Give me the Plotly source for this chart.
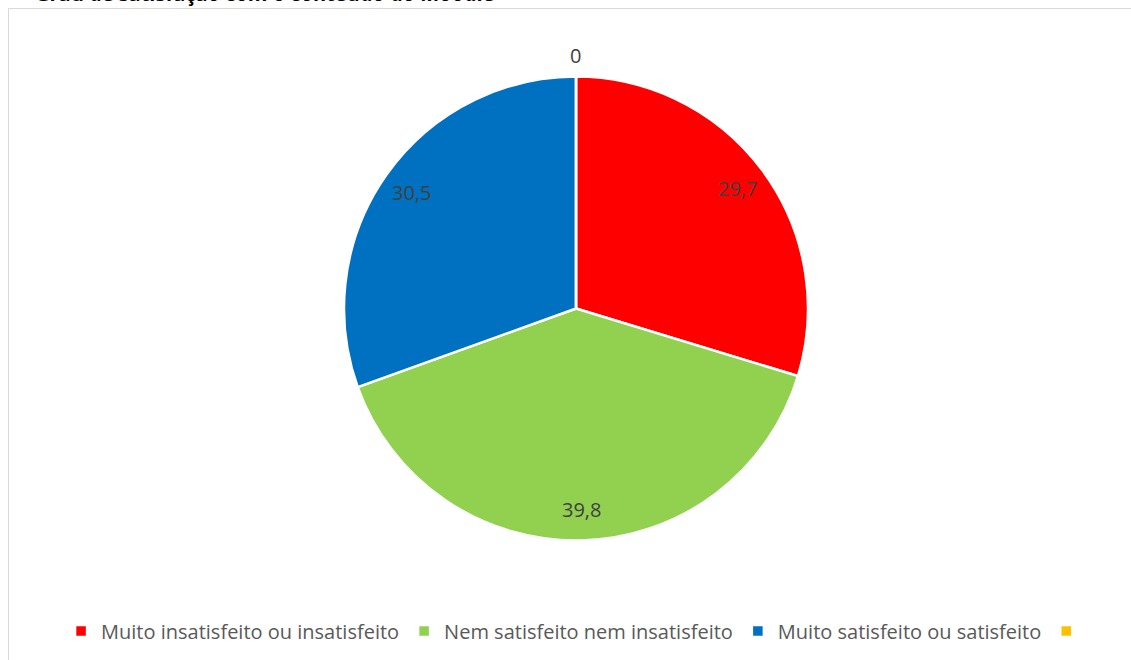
import math
import plotly.graph_objects as go

labels = ["Muito insatisfeito ou insatisfeito", "Nem satisfeito nem insatisfeito",
          "Muito satisfeito ou satisfeito", " "]
values = [29.7, 39.8, 30.5, 0]
value_text = ["29,7", "39,8", "30,5", "0"]
colors = ["#FF0000", "#92D050", "#0070C0", "#FFC000"]

W, H = 1131, 660
cx, cy, r = 576, 308.5, 232

fig = go.Figure(go.Pie(
    labels=labels, values=values, sort=False, direction="clockwise", rotation=0,
    marker=dict(colors=colors, line=dict(color="white", width=2.5)),
    textinfo="none",
    domain=dict(x=[(cx - r) / W, (cx + r) / W], y=[(H - cy - r) / H, (H - cy + r) / H]),
    hoverinfo="label+value", showlegend=True,
))

# data labels positioned from the cumulative values (Excel-like best-fit)
annotations = []
total = sum(values)
cum = 0
for v, t in zip(values, value_text):
    mid = (cum + v / 2) / total * 2 * math.pi
    cum += v
    rl = 201 if v > 0 else 253
    px = cx + rl * math.sin(mid)
    py = cy - rl * math.cos(mid)
    annotations.append(dict(text=t, xref="paper", yref="paper", x=px / W, y=(H - py) / H,
                            xanchor="center", yanchor="middle", showarrow=False,
                            font=dict(family="Open Sans", size=20, color="#404040")))

annotations.append(dict(text="<b>Grau de satisfação com o conteúdo do Moodle</b>", xref="paper", yref="paper",
                        x=33 / W, xanchor="left", y=(H - 8.5) / H, yanchor="bottom", showarrow=False,
                        font=dict(family="Open Sans", size=20, color="black")))

fig.update_layout(
    width=W, height=H, margin=dict(l=0, r=0, t=0, b=0),
    paper_bgcolor="white", plot_bgcolor="white", separators=",.",
    legend=dict(orientation="h", x=0.512, xanchor="center", y=29 / H, yanchor="middle",
                font=dict(family="Open Sans", size=20, color="#595959"),
                itemwidth=30, traceorder="normal"),
    shapes=[dict(type="rect", xref="paper", yref="paper", x0=8.5 / W, x1=1.02,
                 y0=-0.02, y1=(H - 8.5) / H, line=dict(color="#D9D9D9", width=1),
                 fillcolor="rgba(0,0,0,0)", layer="below")],
    annotations=annotations,
)

fig.write_html("out.html")
